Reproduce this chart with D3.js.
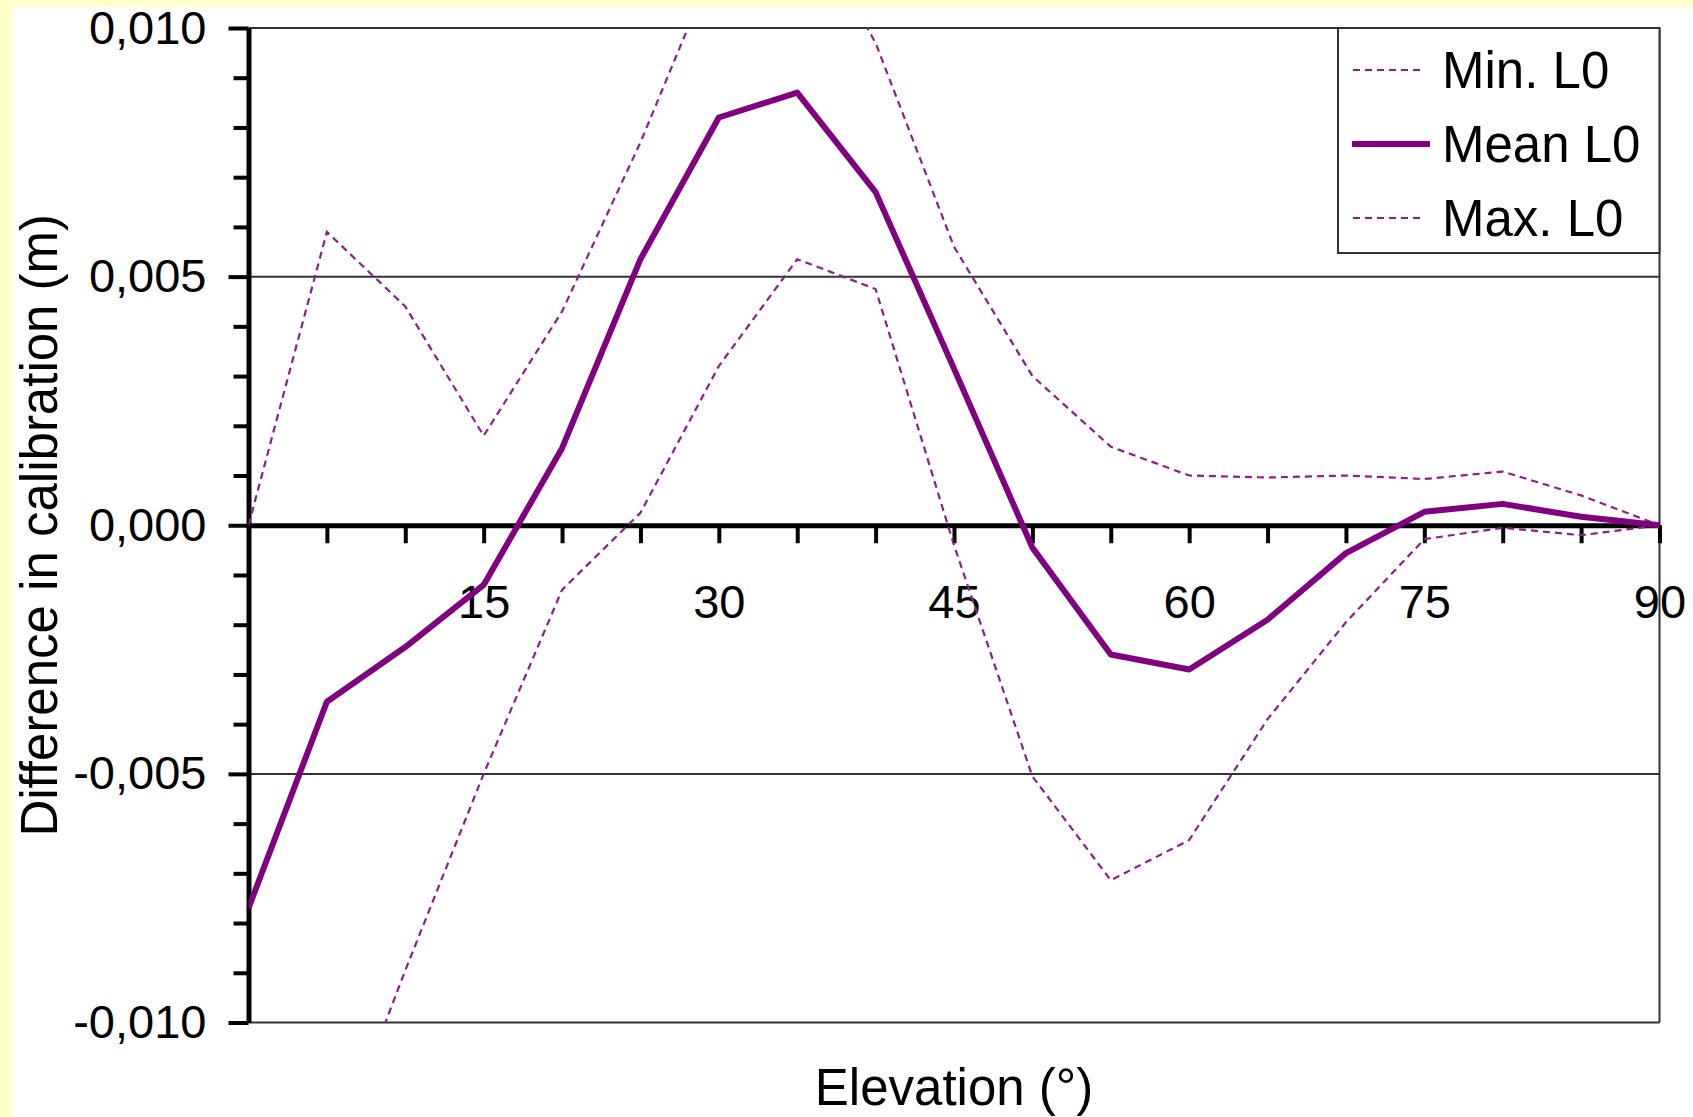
<!DOCTYPE html>
<html><head><meta charset="utf-8">
<script src="https://cdn.jsdelivr.net/npm/d3@7"></script>
<style>
html,body{margin:0;padding:0;background:#fff;}
svg{display:block;}
text{font-family:"Liberation Sans",Arial,sans-serif;fill:#000;}
</style>
</head><body>
<svg id="chart" width="1693" height="1117"></svg>
<script>
// ---- data ----
const elevation = [0,5,10,15,20,25,30,35,40,45,50,55,60,65,70,75,80,85,90];
const minL0  = [-0.0140,-0.0131,-0.00895,-0.0050,-0.0013,0.00025,0.0032,0.00535,0.00475,-0.0004,-0.00505,-0.00714,-0.00633,-0.0039,-0.00195,-0.00028,-0.00005,-0.0002,0];
const meanL0 = [-0.0077,-0.00355,-0.00245,-0.0012,0.00155,0.00535,0.0082,0.0087,0.0067,0.00315,-0.00045,-0.0026,-0.0029,-0.0019,-0.00056,0.00027,0.00043,0.00017,0];
const maxL0  = [0,0.0059,0.0044,0.0018,0.0043,0.0077,0.0115,0.0125,0.0097,0.0056,0.0030,0.00158,0.0010,0.00096,0.0010,0.00093,0.00108,0.0006,0];
const seriesNames = ["Min. L0","Mean L0","Max. L0"];
const xTickValues = [5,10,15,20,25,30,35,40,45,50,55,60,65,70,75,80,85,90];
const xLabelValues = [15,30,45,60,75,90];
const xTickLabels = ["15","30","45","60","75","90"];
const yMajorValues = [0.010,0.005,0,-0.005,-0.010];
const yTickLabels = ["0,010","0,005","0,000","-0,005","-0,010"];
const yMinorValues = [0.009,0.008,0.007,0.006,0.004,0.003,0.002,0.001,-0.001,-0.002,-0.003,-0.004,-0.006,-0.007,-0.008,-0.009];
const gridValues = [0.010,0.005,-0.005,-0.010];
const xTitle = "Elevation (°)";
const yTitle = "Difference in calibration (m)";

// ---- layout ----
const W = 1693, H = 1117;
const L = 248.5, R = 1659.5, T = 28, B = 1022.5;
const svg = d3.select("#chart");

svg.append("rect").attr("x",0).attr("y",0).attr("width",W).attr("height",H).attr("fill","#fff");
svg.append("rect").attr("x",0).attr("y",0).attr("width",12).attr("height",H).attr("fill","#FFFFCC");
svg.append("rect").attr("x",0).attr("y",0).attr("width",W).attr("height",7).attr("fill","#FFFFCC");

const x = d3.scaleLinear().domain([0,90]).range([L,R]);
const y = d3.scaleLinear().domain([-0.010,0.010]).range([B,T]);

// gridlines + right border
svg.append("g").selectAll("line").data(gridValues).join("line")
  .attr("x1",L).attr("x2",R).attr("y1",d=>y(d)).attr("y2",d=>y(d))
  .attr("stroke","#333").attr("stroke-width",2);
svg.append("line").attr("x1",R).attr("x2",R).attr("y1",T).attr("y2",B)
  .attr("stroke","#333").attr("stroke-width",2);

// y axis minor ticks
const gMinor = svg.append("g").attr("transform",`translate(${L},0)`)
  .call(d3.axisLeft(y).tickValues(yMinorValues).tickSize(15).tickSizeOuter(0).tickFormat(""));
gMinor.select(".domain").remove();
gMinor.selectAll(".tick line").attr("stroke","#000").attr("stroke-width",4);

// y axis major
const gY = svg.append("g").attr("transform",`translate(${L},0)`)
  .call(d3.axisLeft(y).tickValues(yMajorValues).tickSize(20).tickSizeOuter(0).tickPadding(22)
        .tickFormat((d,i)=>yTickLabels[i]));
gY.select(".domain").attr("stroke","#000").attr("stroke-width",5);
gY.selectAll(".tick line").attr("stroke","#000").attr("stroke-width",4);
gY.selectAll(".tick text").attr("font-size",47).attr("font-family",'"Liberation Sans",Arial,sans-serif').attr("fill","#000");

// x axis at zero
const gX = svg.append("g").attr("transform",`translate(0,${y(0)})`)
  .call(d3.axisBottom(x).tickValues(xTickValues).tickSize(18).tickSizeOuter(0)
        .tickFormat(d=>{const k=xLabelValues.indexOf(d);return k>=0?xTickLabels[k]:"";}));
gX.select(".domain").attr("stroke","#000").attr("stroke-width",5);
gX.selectAll(".tick line").attr("stroke","#000").attr("stroke-width",4);
gX.selectAll(".tick text").attr("y",59).attr("font-size",47).attr("font-family",'"Liberation Sans",Arial,sans-serif').attr("fill","#000");

// clip
svg.append("clipPath").attr("id","plotclip").append("rect")
  .attr("x",L).attr("y",T).attr("width",R-L).attr("height",B-T);

const line = d3.line().x((d,i)=>x(elevation[i])).y(d=>y(d));
const gLines = svg.append("g").attr("clip-path","url(#plotclip)");
const dashColor = "#8E1E8E";
[minL0,maxL0].forEach(s=>{
  gLines.append("path").attr("d",line(s)).attr("fill","none")
    .attr("stroke",dashColor).attr("stroke-width",2.2).attr("stroke-dasharray","7,5");
});
gLines.append("path").attr("d",line(meanL0)).attr("fill","none")
  .attr("stroke","#800080").attr("stroke-width",6).attr("stroke-linejoin","round");

// legend
const lg = svg.append("g");
lg.append("rect").attr("x",1338).attr("y",T).attr("width",R-1338).attr("height",253-T)
  .attr("fill","#fff").attr("stroke","#333").attr("stroke-width",2);
seriesNames.forEach((name,i)=>{
  const ly = 70 + i*74;
  const isMean = i===1;
  lg.append("line").attr("x1",isMean?1352:1353).attr("x2",isMean?1430:1421).attr("y1",ly).attr("y2",ly)
    .attr("stroke",isMean?"#800080":dashColor).attr("stroke-width",isMean?6:2.2)
    .attr("stroke-dasharray",isMean?null:"7,5");
  lg.append("text").attr("x",1442).attr("y",ly+17.5).attr("font-size",51).text(name);
});

// titles
svg.append("text").attr("x",(L+R)/2).attr("y",1105).attr("text-anchor","middle")
  .attr("font-size",51).text(xTitle);
svg.append("text").attr("transform",`translate(57,${(T+B)/2}) rotate(-90)`).attr("text-anchor","middle")
  .attr("font-size",51).text(yTitle);
</script>
</body></html>
